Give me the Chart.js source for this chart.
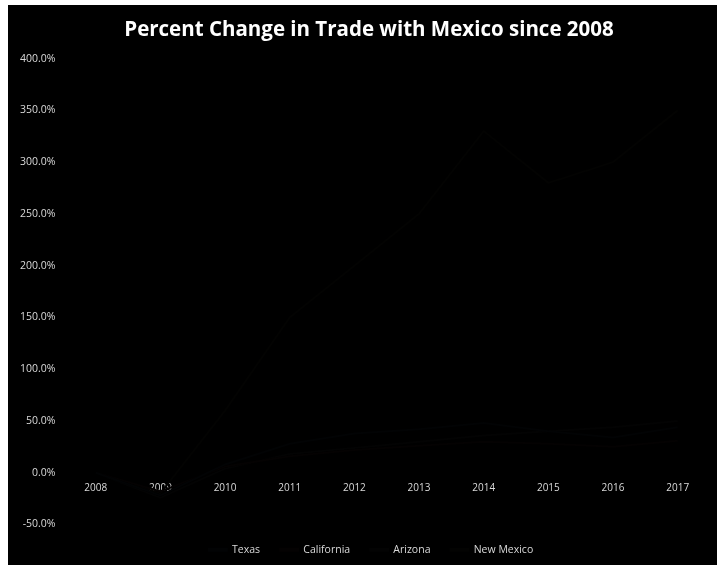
<!DOCTYPE html>
<html>
<head>
<meta charset="utf-8">
<script src="https://cdn.jsdelivr.net/npm/chart.js@4/dist/chart.umd.min.js"></script>
<style>
    html, body { margin: 0; padding: 0; background: #ffffff; }
    #wrap { position: absolute; left: 8px; top: 5px; width: 709px; height: 560px; background: #000000; }
</style>
</head>
<body>
<div id="wrap"><canvas id="chart"></canvas></div>
<script>
const years = ['2008', '2009', '2010', '2011', '2012', '2013', '2014', '2015', '2016', '2017'];
const texas = [0, -22, 8, 28, 38, 42, 48, 40, 34, 44];
const california = [0, -18, 6, 16, 22, 26, 30, 28, 25, 31];
const arizona = [0, -24, 4, 18, 24, 30, 36, 40, 44, 50];
const newMexico = [0, -20, 60, 150, 200, 250, 330, 280, 300, 350];
const seriesNames = ['Texas', 'California', 'Arizona', 'New Mexico'];
// the lines are lost in the dark scan, so keep them next to black
const seriesColors = ['#020304', '#040202', '#030303', '#030302'];

Chart.defaults.font.family = "Open Sans";

const ctx = document.getElementById('chart');
const seriesData = [texas, california, arizona, newMexico];

// nudge title and legend a bit to the right, like the original
const nudge = {
    id: 'nudge',
    afterLayout(chart) {
        chart.titleBlock.left += 8;
        chart.titleBlock.right += 8;
        chart.legend.left += 10;
        chart.legend.right += 10;
    }
};

const config = {
    type: 'line',
    data: {
        labels: years,
        datasets: seriesData.map((d, i) => ({
            label: seriesNames[i],
            data: d,
            borderColor: seriesColors[i],
            backgroundColor: seriesColors[i],
            borderWidth: 2,
            pointRadius: 0,
            fill: false,
            tension: 0
        }))
    },
    options: {
        responsive: true,
        maintainAspectRatio: false,
        animation: false,
        layout: {
            padding: { left: 4, top: 4, right: 7, bottom: 0 }
        },
        plugins: {
            title: {
                display: true,
                text: 'Percent Change in Trade with Mexico since 2008',
                color: '#ffffff',
                font: { size: 20.5, weight: 'bold' },
                padding: { top: 9, bottom: 16 }
            },
            legend: {
                position: 'bottom',
                labels: {
                    color: '#d9d9d9',
                    font: { size: 10.5 },
                    boxWidth: 18,
                    boxHeight: 2,
                    padding: 20
                }
            },
            tooltip: { enabled: false }
        },
        scales: {
            y: {
                min: -50,
                max: 400,
                grid: { display: false, drawTicks: false },
                border: { display: false },
                ticks: {
                    stepSize: 50,
                    color: '#d9d9d9',
                    font: { size: 10.5 },
                    padding: 8,
                    callback: function (value) {
                        return value.toFixed(1) + '%';
                    }
                }
            },
            x: {
                position: { y: 0 },
                offset: true,
                grid: { display: false, drawTicks: false },
                border: { display: false },
                ticks: {
                    color: '#d9d9d9',
                    font: { size: 10 },
                    padding: 9,
                    maxRotation: 0
                }
            }
        }
    },
    plugins: [nudge]
};

new Chart(ctx, config);
</script>
</body>
</html>
